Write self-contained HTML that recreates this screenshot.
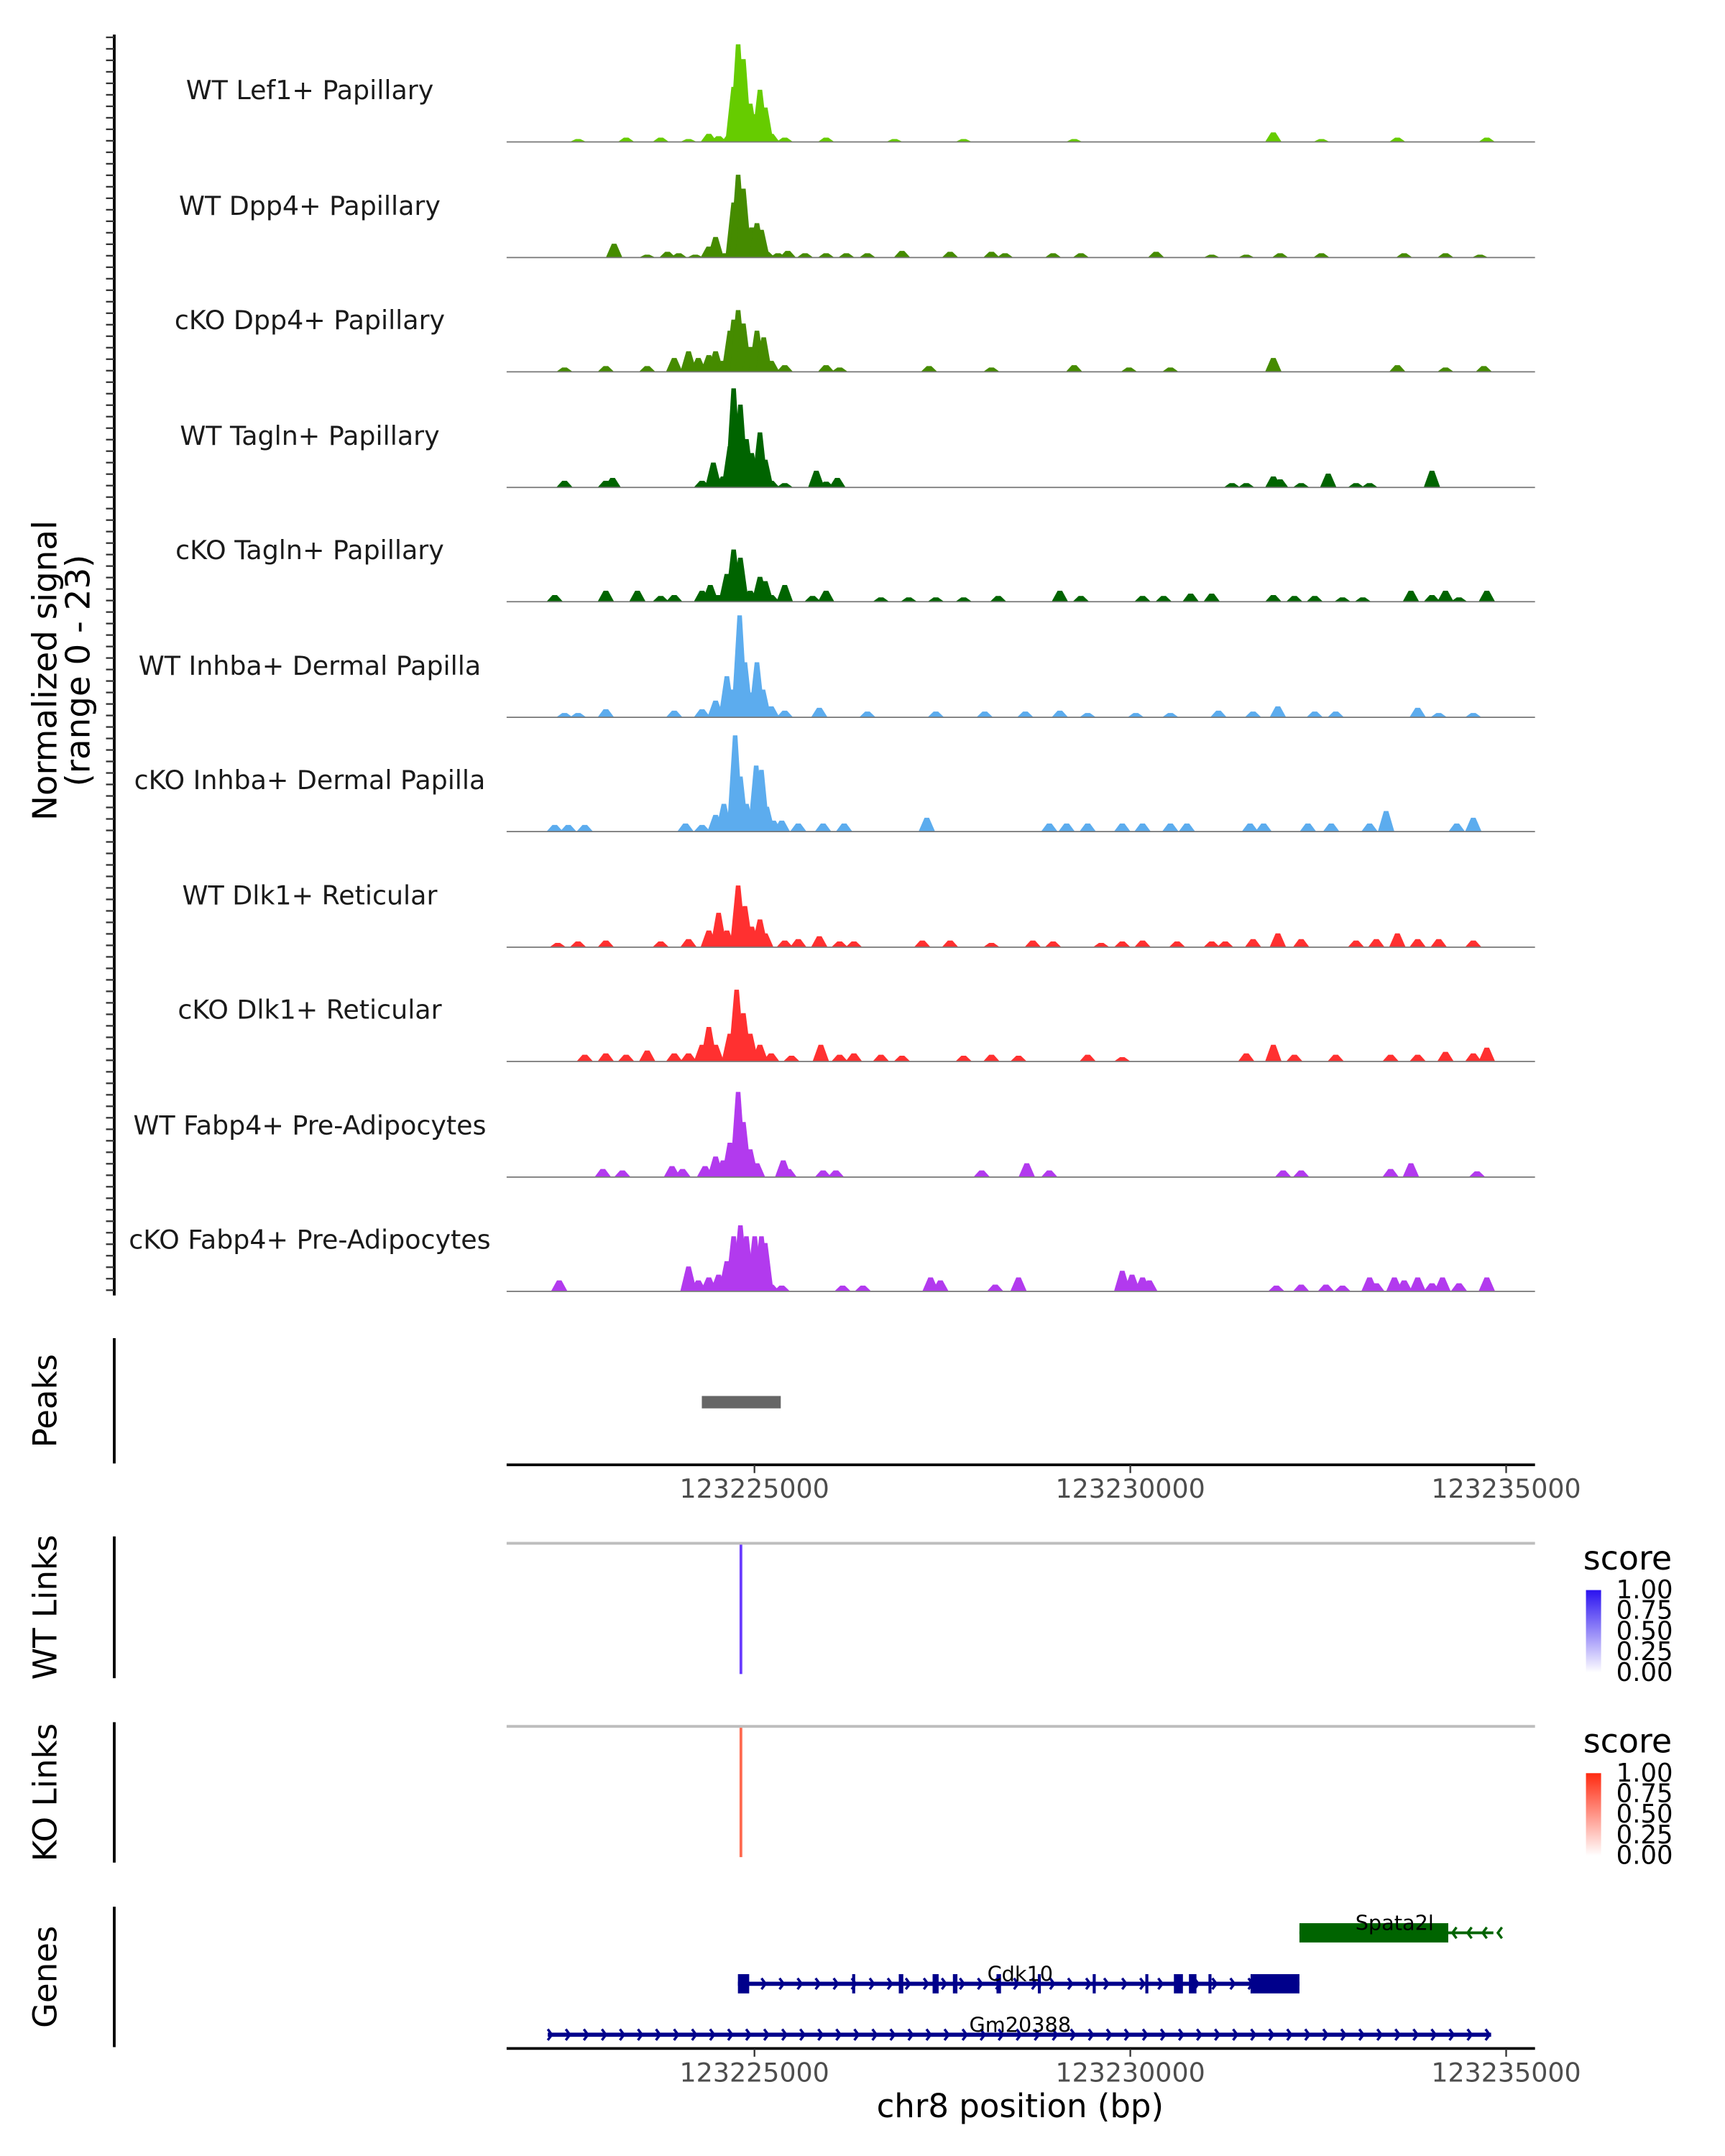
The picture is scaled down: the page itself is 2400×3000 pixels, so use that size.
<!DOCTYPE html>
<html><head><meta charset="utf-8"><style>
html,body{margin:0;padding:0;background:#fff;}
svg{display:block;font-family:"DejaVu Sans","Liberation Sans",sans-serif;}
</style></head><body>
<svg id="chart" xmlns="http://www.w3.org/2000/svg" width="2400" height="3000" viewBox="0 0 1253 1566">
<defs>
<linearGradient id="gWT" x1="0" y1="0" x2="0" y2="1"><stop offset="0" stop-color="#2a12f0"/><stop offset="1" stop-color="#ffffff"/></linearGradient>
<linearGradient id="gKO" x1="0" y1="0" x2="0" y2="1"><stop offset="0" stop-color="#ff2a10"/><stop offset="1" stop-color="#ffffff"/></linearGradient>
</defs>
<g id="tracks"></g>
<g id="rest"></g>
</svg>
<script>
// ---- data ----
const regionStart = 123221703;
const regionEnd = 123235384;
const trackNames = ["WT Lef1+ Papillary","WT Dpp4+ Papillary","cKO Dpp4+ Papillary","WT Tagln+ Papillary","cKO Tagln+ Papillary","WT Inhba+ Dermal Papilla","cKO Inhba+ Dermal Papilla","WT Dlk1+ Reticular","cKO Dlk1+ Reticular","WT Fabp4+ Pre-Adipocytes","cKO Fabp4+ Pre-Adipocytes"];
const trackColors = ["#66cc00","#458b00","#458b00","#006400","#006400","#5cacee","#5cacee","#ff3030","#ff3030","#b23aee","#b23aee"];
const xTicks = [123225000,123230000,123235000];
// positions in kb offset from regionStart; values in normalized signal
const t1Pos=[0.95,1.59,2.05,2.42,2.69,2.82,2.97,3.02,3.08,3.15,3.24,3.32,3.37,3.44,3.52,3.70,4.25,5.16,6.08,7.55,10.20,10.84,11.85,13.04];
const t1Val=[0.6,0.9,0.9,0.6,1.7,1.2,1.7,11.5,20.4,17.3,8.0,5.8,10.9,7.2,1.7,0.9,0.9,0.6,0.6,0.6,2.0,0.6,0.9,0.9];
const t2Pos=[1.43,1.87,2.14,2.29,2.51,2.69,2.78,2.91,3.02,3.08,3.15,3.26,3.33,3.39,3.46,3.61,3.74,3.97,4.25,4.52,4.80,5.26,5.90,6.45,6.63,7.27,7.64,8.64,9.38,9.84,10.29,10.84,11.94,12.49,12.95];
const t2Val=[2.9,0.6,1.2,0.9,0.6,2.3,4.3,0.9,11.5,17.3,14.4,6.3,7.2,5.8,1.2,0.9,1.4,0.9,0.9,0.9,0.9,1.4,1.2,1.2,0.9,0.9,0.9,1.2,0.6,0.6,0.9,0.9,0.9,0.9,0.6];
const t3Pos=[0.77,1.32,1.87,2.23,2.42,2.55,2.69,2.78,2.88,2.97,3.02,3.08,3.15,3.24,3.33,3.42,3.52,3.70,4.25,4.43,5.62,6.45,7.55,8.28,8.83,10.20,11.85,12.49,13.00];
const t3Val=[0.9,1.2,1.2,2.9,4.3,2.9,3.5,4.3,2.3,8.6,10.9,12.9,10.1,5.2,8.6,7.2,2.3,1.4,1.4,0.9,1.2,0.9,1.4,0.9,0.9,2.9,1.4,0.9,1.2];
const t4Pos=[0.77,1.32,1.41,2.60,2.75,2.88,2.97,3.02,3.11,3.19,3.26,3.37,3.44,3.52,3.70,4.12,4.25,4.40,9.65,9.84,10.20,10.29,10.57,10.93,11.30,11.48,12.31];
const t4Val=[1.4,1.4,2.0,1.4,5.2,2.3,8.6,20.7,17.3,10.1,7.2,11.5,5.8,1.4,0.9,3.5,1.2,2.0,0.9,0.9,2.3,1.7,0.9,2.9,0.9,0.9,3.5];
const t5Pos=[0.64,1.32,1.74,2.05,2.23,2.60,2.71,2.82,2.93,3.02,3.11,3.24,3.37,3.44,3.52,3.70,4.07,4.25,4.98,5.35,5.71,6.08,6.54,7.36,7.64,8.46,8.74,9.10,9.38,10.20,10.48,10.75,11.12,11.39,12.03,12.31,12.49,12.67,13.04];
const t5Val=[1.4,2.3,2.3,1.2,1.4,2.3,3.5,1.4,5.8,10.9,9.2,2.3,5.2,4.3,1.4,3.5,1.2,2.3,0.9,0.9,0.9,0.9,1.2,2.3,1.2,1.2,1.2,1.7,1.7,1.4,1.2,1.2,0.9,0.9,2.3,1.4,2.3,0.9,2.3];
const t6Pos=[0.77,0.95,1.32,2.23,2.60,2.78,2.93,3.00,3.10,3.17,3.26,3.33,3.41,3.52,3.70,4.16,4.80,5.71,6.36,6.90,7.36,7.73,8.37,8.83,9.47,9.93,10.26,10.75,11.03,12.12,12.40,12.86];
const t6Val=[0.9,0.9,1.7,1.4,1.7,3.5,8.6,5.8,21.3,11.5,5.2,11.5,5.8,2.3,1.4,2.0,1.2,1.2,1.2,1.2,1.4,0.9,0.9,0.9,1.4,1.2,2.3,1.2,1.2,2.0,0.9,0.9];
const t7Pos=[0.64,0.82,1.04,2.38,2.60,2.78,2.89,2.99,3.04,3.11,3.19,3.26,3.32,3.39,3.46,3.55,3.66,3.88,4.21,4.49,5.59,7.22,7.45,7.73,8.19,8.46,8.83,9.05,9.89,10.07,10.66,10.97,11.48,11.70,12.64,12.86];
const t7Val=[1.4,1.4,1.4,1.7,1.4,3.5,5.8,2.3,20.1,11.5,5.8,4.3,13.8,12.9,5.2,2.3,2.3,1.7,1.7,1.7,2.9,1.7,1.7,1.7,1.7,1.7,1.7,1.7,1.7,1.7,1.7,1.7,1.7,4.3,1.7,2.9];
const t8Pos=[0.68,0.95,1.32,2.05,2.42,2.69,2.82,2.93,3.08,3.17,3.26,3.37,3.44,3.70,3.88,4.16,4.43,4.62,5.53,5.90,6.45,7.00,7.27,7.91,8.19,8.46,8.92,9.38,9.56,9.93,10.26,10.57,11.30,11.57,11.85,12.12,12.40,12.86];
const t8Val=[0.9,1.2,1.4,1.2,1.7,3.5,7.2,3.5,12.9,8.6,4.3,5.8,2.9,1.4,1.7,2.3,1.2,1.2,1.4,1.4,0.9,1.4,1.2,0.9,1.2,1.4,1.2,1.2,1.2,1.7,2.9,1.7,1.4,1.7,2.9,1.7,1.7,1.4];
const t9Pos=[1.04,1.32,1.59,1.87,2.23,2.42,2.60,2.69,2.78,2.97,3.06,3.15,3.24,3.37,3.52,3.79,4.18,4.43,4.62,4.98,5.26,6.08,6.45,6.81,7.73,8.19,9.84,10.20,10.48,11.03,11.76,12.12,12.49,12.86,13.04];
const t9Val=[1.4,1.7,1.4,2.3,1.7,1.7,3.5,7.2,3.5,5.8,15.0,10.1,5.8,3.5,1.7,1.2,3.5,1.4,1.7,1.4,1.2,1.2,1.4,1.2,1.4,0.9,1.7,3.5,1.4,1.4,1.4,1.4,2.0,1.7,2.9];
const t10Pos=[1.28,1.54,2.20,2.34,2.64,2.78,2.88,2.97,3.08,3.15,3.24,3.33,3.68,3.75,4.21,4.38,6.32,6.92,7.22,10.33,10.57,11.76,12.03,12.91];
const t10Val=[1.7,1.4,2.3,1.7,2.3,4.3,3.5,7.2,17.8,11.5,5.8,2.9,3.5,1.7,1.4,1.4,1.4,2.9,1.4,1.4,1.4,1.7,2.9,1.2];
const t11Pos=[0.70,2.42,2.55,2.69,2.82,2.93,3.02,3.11,3.19,3.30,3.39,3.44,3.52,3.66,4.47,4.74,5.64,5.77,6.50,6.81,8.19,8.32,8.46,8.55,10.24,10.57,10.90,11.12,11.48,11.57,11.81,11.94,12.12,12.31,12.45,12.67,13.04];
const t11Val=[2.3,5.2,2.3,2.9,3.5,6.3,11.5,13.8,11.5,11.5,11.5,10.1,1.4,1.2,1.2,1.2,2.9,2.3,1.4,2.9,4.3,3.5,2.9,2.3,1.2,1.4,1.4,1.2,2.9,1.7,2.9,2.3,2.9,1.7,2.9,1.7,2.9];
const trackPos=[t1Pos,t2Pos,t3Pos,t4Pos,t5Pos,t6Pos,t7Pos,t8Pos,t9Pos,t10Pos,t11Pos];
const trackVal=[t1Val,t2Val,t3Val,t4Val,t5Val,t6Val,t7Val,t8Val,t9Val,t10Val,t11Val];
const peakStart=123224300, peakEnd=123225350;
const linkPos=123224820;
const cdk10Start=123224780, cdk10End=123232250;
const cdk10Exons=[[123224780,123224930],[123226300,123226340],[123226920,123226980],[123227370,123227450],[123227640,123227700],[123228220,123228280],[123228770,123228810],[123229500,123229540],[123230200,123230240],[123230580,123230700],[123230780,123230880],[123231040,123231080],[123231600,123232250]];
const gmStart=123222250, gmEnd=123234800;
const spataStart=123232250, spataEnd=123234830, spataBoxEnd=123234230;
const legendTicks=["1.00","0.75","0.50","0.25","0.00"];

// ---- scales ----
const X0=368, X1=1115;
function xs(bp){return X0+(bp-regionStart)/(regionEnd-regionStart)*(X1-X0);}
const baselines=[103,187,270,354,437,521,604,688,771,855,938];
function ys(base,v){return base - v*80/23;}
const NS="http://www.w3.org/2000/svg";
function mk(tag,attrs,parent,text){const e=document.createElementNS(NS,tag);for(const k in attrs)e.setAttribute(k,attrs[k]);if(text!==undefined)e.textContent=text;parent.appendChild(e);return e;}

const tg=document.getElementById('tracks');
const rg=document.getElementById('rest');
for(let i=0;i<11;i++){
  const b=baselines[i];
  const g=mk('g',{},tg);
  
  
  const lab=mk('text',{x:225,y:b-31,'text-anchor':'middle','font-size':19,fill:'#1a1a1a'},g,trackNames[i]);
  
  
  const P=trackPos[i],V=trackVal[i];
  for(let j=0;j<P.length;j++){
    const bp=regionStart+P[j]*1000;
    const w=0.11*1000, t=0.03*1000;
    const pts=[[xs(bp-w),b],[xs(bp-t),ys(b,V[j])],[xs(bp+t),ys(b,V[j])],[xs(bp+w),b]].map(p=>p[0].toFixed(2)+','+p[1].toFixed(2)).join(' ');
    const poly=mk('polygon',{points:pts,fill:trackColors[i]},g);
    
    
  }
  const bl=mk('line',{x1:X0,x2:X1,y1:b,y2:b,stroke:'#777',"stroke-width":0.9},g);
  
  
}
// left axis
const ax=mk('line',{x1:83,x2:83,y1:25,y2:941,stroke:'#000','stroke-width':2},rg);


for(let y=27;y<=940;y+=8.35){
  const t=mk('line',{x1:77,x2:83,y1:y,y2:y,stroke:'#333','stroke-width':1.2},rg);
  
  
}
const yt=mk('text',{transform:'translate(41,487) rotate(-90)','text-anchor':'middle','font-size':24.4,fill:'#000'},rg);


mk('tspan',{x:0,dy:0},yt,'Normalized signal');
mk('tspan',{x:0,dy:24},yt,'(range 0 - 23)');

function sideLabel(name,y0,y1,text){
  const a=mk('line',{x1:83,x2:83,y1:y0,y2:y1,stroke:'#000','stroke-width':2},rg);
  
  
  const t=mk('text',{transform:`translate(33,${(y0+y1)/2}) rotate(-90)`,'text-anchor':'middle','dominant-baseline':'central','font-size':23.5,fill:'#000'},rg,text);
  
  
}
sideLabel('peaks',972,1063,'Peaks');
sideLabel('wt-links',1116,1219,'WT Links');
sideLabel('ko-links',1251,1353,'KO Links');
sideLabel('genes',1385,1487,'Genes');

const pk=mk('rect',{x:xs(peakStart),y:1014,width:xs(peakEnd)-xs(peakStart),height:9,fill:'#666'},rg);



function xAxis(y,name){
  const l=mk('line',{x1:X0,x2:X1,y1:y,y2:y,stroke:'#000','stroke-width':2},rg);
  
  
  xTicks.forEach(v=>{
    const t=mk('line',{x1:xs(v),x2:xs(v),y1:y,y2:y+6,stroke:'#333','stroke-width':1.2},rg);
    
    
    const tx=mk('text',{x:xs(v),y:y+24,'text-anchor':'middle','font-size':19,fill:'#4d4d4d'},rg,String(v));
    
    
  });
}
xAxis(1064,'peaks-x-axis');
xAxis(1488,'genes-x-axis');
const xt=mk('text',{x:741,y:1538,'text-anchor':'middle','font-size':23.5,fill:'#000'},rg,'chr8 position (bp)');



function links(y,color,grad,name){
  const l=mk('line',{x1:X0,x2:X1,y1:y,y2:y,stroke:'#bebebe','stroke-width':2},rg);
  
  
  const v=mk('line',{x1:xs(linkPos),x2:xs(linkPos),y1:y+1,y2:y+95,stroke:color,'stroke-width':2},rg);
  
  
  const s=mk('text',{x:1150,y:y+19,'font-size':24,fill:'#000'},rg,'score');
  
  
  const r=mk('rect',{x:1152,y:y+34,width:11,height:60,fill:`url(#${grad})`},rg);
  
  
  legendTicks.forEach((t,k)=>{
    const yy=y+34+k*15;
    const tx=mk('text',{x:1174,y:yy+6,'font-size':18.5,fill:'#000'},rg,t);
    
    
  });
}
links(1121,'#6a3cff','gWT','wt-links');
links(1254,'#ff6a50','gKO','ko-links');

// genes
function chevrons(g,x0,x1,y,step,dir,color){
  for(let x=x0+6;x<x1-2;x+=step){
    const d=dir>0?`M${x-2},${y-4} L${x+1},${y} L${x-2},${y+4}`:`M${x+2},${y-4} L${x-1},${y} L${x+2},${y+4}`;
    mk('path',{d:d,fill:'none',stroke:color,'stroke-width':1.8},g);
  }
}
const gm=mk('g',{},rg);


mk('line',{x1:xs(gmStart),x2:xs(gmEnd),y1:1478,y2:1478,stroke:'#00008b','stroke-width':3},gm);
chevrons(gm,xs(gmStart)-4,xs(gmEnd)+4,1478,13.1,1,'#00008b');
mk('text',{x:741,y:1476,'text-anchor':'middle','font-size':15,fill:'#000'},gm,'Gm20388');

const cdk=mk('g',{},rg);


mk('line',{x1:xs(cdk10Start),x2:xs(cdk10End),y1:1441,y2:1441,stroke:'#00008b','stroke-width':3},cdk);
chevrons(cdk,xs(cdk10Start),xs(cdk10End)-30,1441,13.1,1,'#00008b');
cdk10Exons.forEach((e,k)=>{
  mk('rect',{x:xs(e[0]),y:1434,width:Math.max(2,xs(e[1])-xs(e[0])),height:14,fill:'#00008b'},cdk);
});
mk('text',{x:741,y:1439,'text-anchor':'middle','font-size':15,fill:'#000'},cdk,'Cdk10');

const sp=mk('g',{},rg);


mk('line',{x1:xs(spataStart),x2:xs(spataEnd),y1:1404,y2:1404,stroke:'#006400','stroke-width':2},sp);
mk('rect',{x:xs(spataStart),y:1397,width:xs(spataBoxEnd)-xs(spataStart),height:14,fill:'#006400'},sp);
chevrons(sp,xs(spataBoxEnd)-2,xs(spataEnd)+8,1404,11,-1,'#006400');
mk('text',{x:1013,y:1402,'text-anchor':'middle','font-size':15,fill:'#000'},sp,'Spata2l');
</script>
</body></html>
